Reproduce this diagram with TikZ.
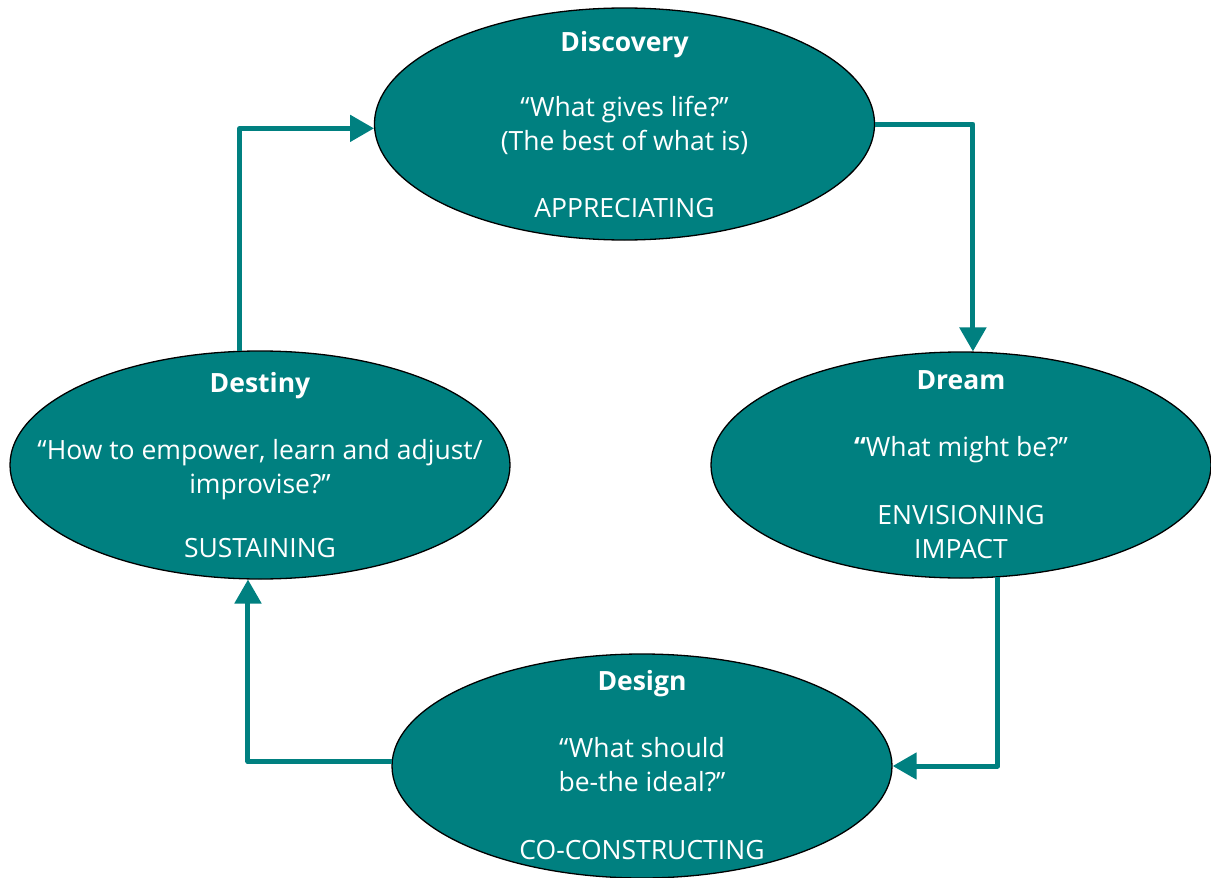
\documentclass[tikz,border=0pt]{standalone}
\usepackage{fontspec}
\setmainfont{Open Sans}
\usetikzlibrary{shapes.geometric,arrows.meta}
\definecolor{teal1}{RGB}{0,128,128}
\begin{document}
\begin{tikzpicture}[x=1pt,y=-1pt,
 phase/.style={ellipse,draw=black,line width=1.3pt,fill=teal1,minimum width=500pt,minimum height=228pt,inner sep=0pt},
 txt/.style={text=white,align=center,font=\fontsize{26.5}{34}\selectfont,inner sep=0pt},
 flow/.style={draw=teal1,line width=5pt,line join=round,-{Triangle[length=24pt,width=26pt]}}]
\useasboundingbox (0,0) rectangle (1211,878);
\node[phase,minimum height=232pt] (discovery) at (624.5,124) {};
\node[phase,minimum height=226pt] (dream) at (961,465) {};
\node[phase,minimum height=224pt] (design) at (642,766) {};
\node[phase] (destiny) at (260,465) {};

\node[txt] (discoveryT) at (624.5,125) {\textbf{Discovery}\\[31pt]“What gives life?”\\(The best of what is)\\[33pt]APPRECIATING};
\node[txt] (dreamT) at (961,465) {\textbf{Dream}\\[33pt]{\bfseries “}What might be?”\\[34pt]ENVISIONING\\IMPACT};
\node[txt] (designT) at (642,765) {\textbf{Design}\\[33pt]“What should\\be-the ideal?”\\[34pt]CO-CONSTRUCTING};
\node[txt] (destinyT) at (260,465) {\textbf{Destiny}\\[33pt]“How to empower, learn and adjust/\\improvise?”\\[30pt]SUSTAINING};

\draw[flow] (destiny.100) |- (discovery.181);
\draw[flow] (discovery.east) -| (dream.84);
\draw[flow] (dream.-72) |- (design.east);
\draw[flow] (design.179) -| (destiny.264);
\end{tikzpicture}
\end{document}
